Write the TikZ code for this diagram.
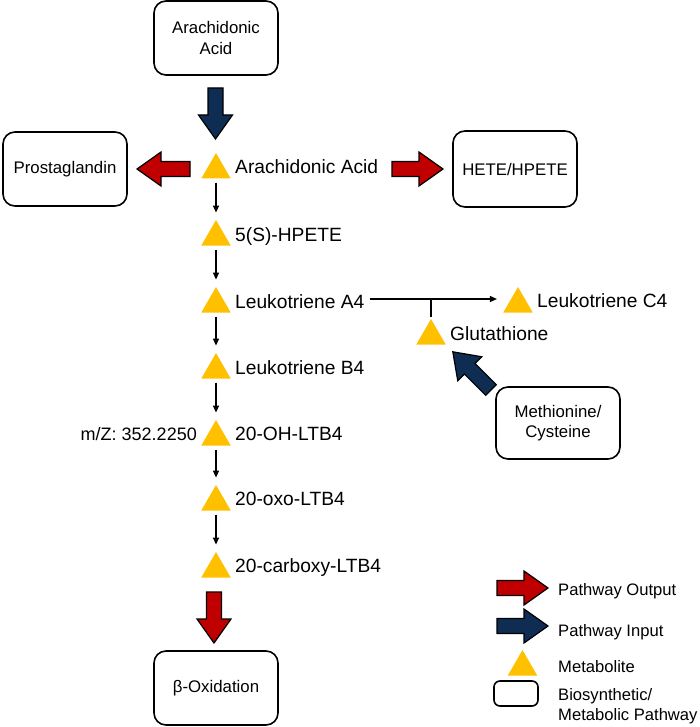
\documentclass[tikz,border=0pt]{standalone}
\usepackage{fontspec}
\setmainfont{Liberation Sans}
\usetikzlibrary{shapes.geometric,arrows.meta,calc}
\definecolor{outred}{HTML}{C00000}
\definecolor{innavy}{HTML}{0F2D52}
\definecolor{metgold}{HTML}{FFC000}
% block arrow: #1 style, #2 tail point, #3 angle, #4 length
\newcommand\blockarr[4]{\draw[#1, shift={#2}, rotate=#3] (0,-7.5) -- ({#4-24},-7.5) -- ({#4-24},-17) -- (#4,0) -- ({#4-24},17) -- ({#4-24},7.5) -- (0,7.5) -- cycle;}
\begin{document}
\begin{tikzpicture}[x=1pt,y=-1pt,
  pathbox/.style={draw, line width=1.6pt, rounded corners=12pt, minimum width=124pt, minimum height=74pt, align=center, inner sep=0pt, font=\fontsize{16.8}{20.5}\selectfont},
  legbox/.style={draw, line width=1.6pt, rounded corners=6pt, minimum width=44pt, minimum height=25pt, inner sep=0pt},
  metab/.style={regular polygon, regular polygon sides=3, fill=metgold, minimum size=34pt, inner sep=0pt},
  mlabel/.style={anchor=base west, inner sep=0pt, font=\fontsize{19.2}{22}\selectfont},
  legtext/.style={anchor=base west, inner sep=0pt, align=left, font=\fontsize{16.6}{20}\selectfont},
  conn/.style={line width=1.3pt, -{Triangle[length=7pt,width=6pt]}},
  outarr/.style={fill=outred, draw=black, line width=1.2pt},
  inarr/.style={fill=innavy, draw=black, line width=1.2pt}]
\useasboundingbox (0,0) rectangle (700,727);

% pathway boxes
\node[pathbox] (boxAA) at (216,38) {Arachidonic\\Acid};
\node[pathbox] (boxPG) at (65,169) {Prostaglandin};
\node[pathbox, minimum height=76pt] (boxHE) at (515,169) {HETE/HPETE};
\node[pathbox, minimum height=72pt] (boxMC) at (558,423) {Methionine/\\Cysteine};
\node[pathbox] (boxBO) at (216,688) {β-Oxidation};

% metabolites
\node[metab] (aa) at (216,170) {};
\node[metab] (s5) at (216,237) {};
\node[metab] (la4) at (216,304) {};
\node[metab] (lb4) at (216,370) {};
\node[metab] (oh) at (216,437) {};
\node[metab] (oxo) at (216,502) {};
\node[metab] (cb) at (216,569) {};
\node[metab] (glut) at (431,336) {};
\node[metab] (ltc4) at (518,304) {};

\node[mlabel] (aaL) at (235,174) {Arachidonic Acid};
\node[mlabel] (s5L) at (235,241) {5(S)-HPETE};
\node[mlabel] (la4L) at (235,308) {Leukotriene A4};
\node[mlabel] (lb4L) at (235,374) {Leukotriene B4};
\node[mlabel] (ohL) at (235,440) {20-OH-LTB4};
\node[mlabel] (oxoL) at (235,505) {20-oxo-LTB4};
\node[mlabel] (cbL) at (235,572) {20-carboxy-LTB4};
\node[mlabel] (glutL) at (450,340) {Glutathione};
\node[mlabel] (ltc4L) at (537,307) {Leukotriene C4};
\node[mlabel, anchor=base east, font=\fontsize{18}{21}\selectfont] (mz) at (197,440) {m/Z: 352.2250};

% connectors
\foreach \a/\b in {aa/s5, s5/la4, la4/lb4, lb4/oh, oh/oxo, oxo/cb}
  \draw[conn, shorten <=4pt, shorten >=7pt] (\a.south) -- (\b.corner 1);
\coordinate (jn) at (431,299);
\draw[conn, shorten <=5pt, shorten >=11pt] (la4L.east |- jn) -- (ltc4.west |- jn);
\draw[line width=1.3pt, shorten >=2pt] (jn) -- (glut.corner 1);

% block arrows
\blockarr{inarr}{(215.5,88)}{-90}{51}
\blockarr{outarr}{(190,169)}{180}{53}
\blockarr{outarr}{(392,169)}{0}{51}
\blockarr{outarr}{(214,592)}{-90}{51}
\blockarr{inarr}{(491,390)}{135}{54}

% legend
\blockarr{outarr}{(497,588)}{0}{51}
\blockarr{inarr}{(497,626)}{0}{51}
\node[metab] (legtri) at (522.5,667) {};
\node[legbox] (legrect) at (516,693.5) {};
\node[legtext] (legOut) at (558,595) {Pathway Output};
\node[legtext] (legIn) at (558,636) {Pathway Input};
\node[legtext] (legMet) at (558,672) {Metabolite};
\node[legtext, anchor=north west] (legPw) at (558,688.5) {Biosynthetic/\\Metabolic Pathway};
\end{tikzpicture}
\end{document}
